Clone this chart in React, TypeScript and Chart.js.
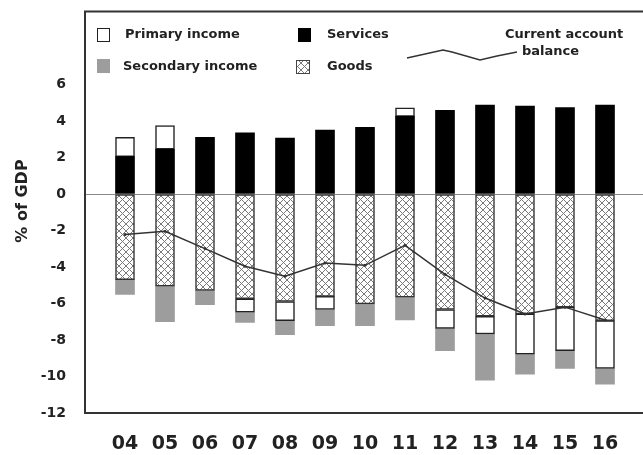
import React, { useEffect, useRef } from 'react';
import { Chart, registerables } from 'chart.js';

Chart.register(...registerables);

// Balance of payments components, % of GDP
const years = ['04', '05', '06', '07', '08', '09', '10', '11', '12', '13', '14', '15', '16'];
const services = [2.05, 2.45, 3.1, 3.35, 3.07, 3.5, 3.65, 4.25, 4.58, 4.87, 4.82, 4.73, 4.87];
const goods = [-4.7, -5.05, -5.28, -5.74, -5.89, -5.61, -6.02, -5.65, -6.33, -6.7, -6.57, -6.2, -6.94];
const primaryIncome = [1.05, 1.3, null, -0.74, -1.05, -0.72, null, 0.47, -1.03, -0.97, -2.2, -2.39, -2.62];
const secondaryIncome = [-0.8, -1.94, -0.79, -0.55, -0.77, -0.88, -1.19, -1.25, -1.23, -2.53, -1.1, -0.97, -0.86];
const currentAccount = [-2.22, -2.04, -2.99, -3.96, -4.51, -3.78, -3.91, -2.81, -4.4, -5.7, -6.57, -6.2, -6.9];

const Y_MIN = -12;
const Y_MAX = 10;
const Y_STEP = 2;
const Y_LABEL_MAX = 6;

// one empty slot on each side of the year range
const labels = ['', ...years, ''];
const pad = (a: (number | null)[]) => [null, ...a, null];

const FONT = '"DejaVu Sans", sans-serif';
const INK = '#222';
const GREY = '#9d9d9d';

// diagonal cross-hatch tile for the goods bars
function makeHatch(): CanvasPattern | string {
  const n = 7;
  const c = document.createElement('canvas');
  c.width = n;
  c.height = n;
  const g = c.getContext('2d');
  if (!g) return '#ddd';
  g.fillStyle = '#fff';
  g.fillRect(0, 0, n, n);
  g.strokeStyle = '#7a7a7a';
  g.lineWidth = 1;
  g.beginPath();
  g.moveTo(0, 0);
  g.lineTo(n, n);
  g.moveTo(0, n);
  g.lineTo(n, 0);
  g.stroke();
  const p = g.createPattern(c, 'repeat');
  return p || '#ddd';
}

export default function App() {
  const ref = useRef<HTMLCanvasElement | null>(null);

  useEffect(() => {
    const canvas = ref.current;
    if (!canvas) return;
    const hatch = makeHatch();

    const decor = {
      id: 'decor',
      afterDraw(chart: any) {
        const { ctx, chartArea: a } = chart;
        ctx.save();
        // frame
        ctx.strokeStyle = '#333';
        ctx.lineWidth = 2;
        ctx.strokeRect(a.left, a.top, a.right - a.left, a.bottom - a.top);

        // axis title
        ctx.save();
        ctx.translate(23, 201);
        ctx.rotate(-Math.PI / 2);
        ctx.fillStyle = INK;
        ctx.font = `bold 16px ${FONT}`;
        ctx.textAlign = 'center';
        ctx.textBaseline = 'middle';
        ctx.fillText('% of GDP', 0, 0);
        ctx.restore();

        // legend
        ctx.font = `bold 13px ${FONT}`;
        ctx.textAlign = 'left';
        ctx.textBaseline = 'middle';
        ctx.lineWidth = 1;

        ctx.fillStyle = '#fff';
        ctx.fillRect(97.5, 28.5, 12, 13);
        ctx.strokeStyle = '#222';
        ctx.strokeRect(97.5, 28.5, 12, 13);
        ctx.fillStyle = INK;
        ctx.fillText('Primary income', 125, 35);

        ctx.fillStyle = '#000';
        ctx.fillRect(298, 28, 13, 14);
        ctx.fillStyle = INK;
        ctx.fillText('Services', 327, 35);

        ctx.fillStyle = GREY;
        ctx.fillRect(97, 59, 13, 14);
        ctx.fillStyle = INK;
        ctx.fillText('Secondary income', 123, 67);

        ctx.fillStyle = hatch;
        ctx.fillRect(296.5, 60.5, 13, 13);
        ctx.strokeStyle = '#444';
        ctx.strokeRect(296.5, 60.5, 13, 13);
        ctx.fillStyle = INK;
        ctx.fillText('Goods', 327, 67);

        ctx.strokeStyle = '#333';
        ctx.lineWidth = 1.5;
        ctx.beginPath();
        ctx.moveTo(407, 58);
        ctx.lineTo(443, 50);
        ctx.lineTo(452, 52);
        ctx.lineTo(480, 60);
        ctx.lineTo(497, 56);
        ctx.lineTo(517, 52);
        ctx.stroke();
        ctx.fillStyle = INK;
        ctx.fillText('Current account', 505, 35);
        ctx.fillText('balance', 522, 52);
        ctx.restore();
      },
    };

    const chart = new Chart(canvas, {
      type: 'bar',
      data: {
        labels,
        datasets: [
          {
            label: 'Services',
            data: pad(services),
            backgroundColor: '#000',
            borderWidth: 0,
            stack: 'components',
            order: 1,
          },
          {
            label: 'Goods',
            data: pad(goods),
            backgroundColor: hatch as any,
            borderColor: '#333',
            borderWidth: 1.5,
            borderSkipped: false,
            stack: 'components',
            order: 1,
          },
          {
            label: 'Primary income',
            data: pad(primaryIncome),
            backgroundColor: '#fff',
            borderColor: '#222',
            borderWidth: 1.5,
            borderSkipped: false,
            stack: 'components',
            order: 1,
          },
          {
            label: 'Secondary income',
            data: pad(secondaryIncome),
            backgroundColor: GREY,
            borderWidth: 0,
            stack: 'components',
            order: 1,
          },
          {
            type: 'line',
            label: 'Current account balance',
            data: pad(currentAccount),
            borderColor: '#333',
            borderWidth: 1.5,
            pointRadius: 1.5,
            pointBackgroundColor: '#333',
            pointBorderWidth: 0,
            tension: 0,
            stack: 'balance',
            order: 0,
          } as any,
        ],
      },
      options: {
        animation: false,
        responsive: false,
        maintainAspectRatio: false,
        layout: { padding: { top: 11.5, right: 35, bottom: 0, left: 0 } },
        datasets: { bar: { barThickness: 19 } },
        plugins: {
          legend: { display: false },
          tooltip: { enabled: false },
        },
        scales: {
          x: {
            type: 'category',
            stacked: true,
            offset: false,
            grid: { display: false, drawTicks: false },
            border: { display: false },
            ticks: {
              font: { family: FONT, weight: 'bold', size: 19 },
              color: INK,
              padding: 20,
              maxRotation: 0,
              autoSkip: false,
            },
            afterFit: (s: any) => {
              s.height = 42;
              s.paddingLeft = 0;
              s.paddingRight = 0;
            },
          },
          y: {
            stacked: true,
            min: Y_MIN,
            max: Y_MAX,
            grid: {
              drawTicks: false,
              color: (c: any) => (c.tick && c.tick.value === 0 ? '#8a8a8a' : 'rgba(0,0,0,0)'),
              lineWidth: 1,
            },
            border: { display: false },
            ticks: {
              stepSize: Y_STEP,
              font: { family: FONT, weight: 'bold', size: 14 },
              color: INK,
              padding: 19,
              callback: (v: any) => (Number(v) > Y_LABEL_MAX ? '' : String(v)),
            },
            afterFit: (s: any) => {
              s.width = 85;
              s.paddingTop = 0;
              s.paddingBottom = 0;
            },
          },
        },
      },
      plugins: [decor],
    });

    return () => chart.destroy();
  }, []);

  return (
    <div style={{ position: 'absolute', left: 0, top: 0, width: 643, height: 455, overflow: 'hidden', background: '#fff' }}>
      <canvas ref={ref} width={680} height={455} style={{ display: 'block' }} />
    </div>
  );
}
